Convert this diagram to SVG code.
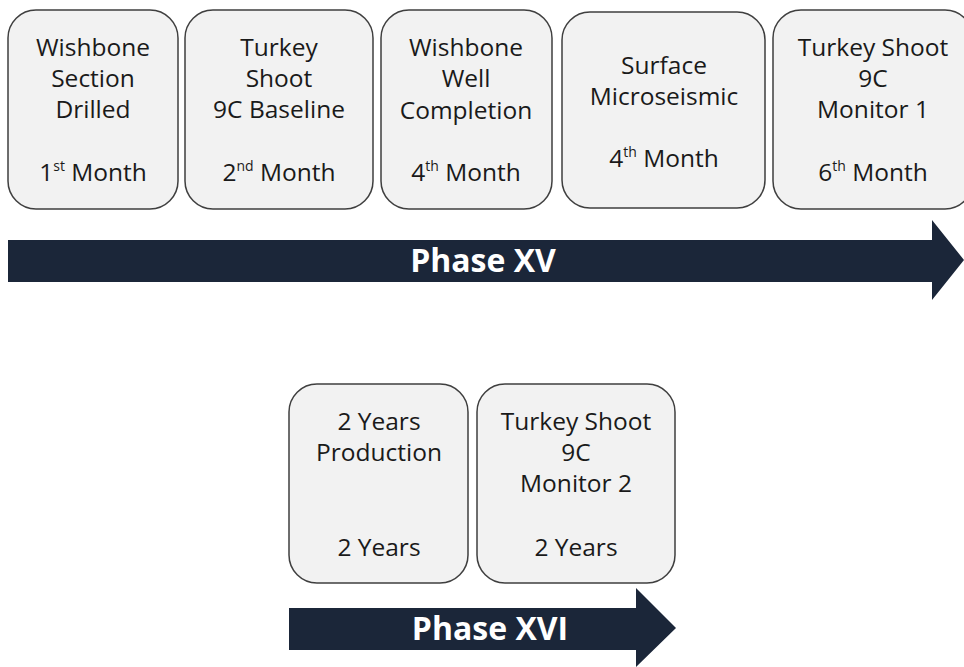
<svg xmlns="http://www.w3.org/2000/svg" width="964" height="667" viewBox="0 0 964 667">
<style>
.box{fill:#f2f2f2;stroke:#3f3f3f;stroke-width:1.5}
.t{font-family:"Open Sans","Noto Sans",sans-serif;font-size:24.5px;fill:#1a1a1a;text-anchor:middle}
.s{font-size:14px}
.arr{fill:#1b2639}
.p{font-family:"Open Sans","Noto Sans",sans-serif;font-size:32px;font-weight:bold;fill:#ffffff;text-anchor:middle}
</style>
<rect width="964" height="667" fill="#ffffff"/>
<g id="connectors">
<path class="arr" d="M8,240 H932 V220 L964,260 L932,300 V282 H8 Z"/>
<text class="p" x="483" y="272">Phase XV</text>
<path class="arr" d="M289,608 H636 V588 L676,628 L636,667 V650 H289 Z"/>
<text class="p" x="490" y="640">Phase XVI</text>
</g>
<g id="n1"><rect class="box" x="8" y="10" width="170" height="199" rx="28"/>
<text class="t" x="93" y="56">Wishbone</text><text class="t" x="93" y="87">Section</text><text class="t" x="93" y="118">Drilled</text>
<text class="t" x="93" y="181">1<tspan class="s" dy="-10">st</tspan><tspan dy="10"> Month</tspan></text></g>
<g id="n2"><rect class="box" x="185" y="10" width="188" height="199" rx="28"/>
<text class="t" x="279" y="56">Turkey</text><text class="t" x="279" y="87">Shoot</text><text class="t" x="279" y="118">9C Baseline</text>
<text class="t" x="279" y="181">2<tspan class="s" dy="-10">nd</tspan><tspan dy="10"> Month</tspan></text></g>
<g id="n3"><rect class="box" x="381" y="10" width="171" height="199" rx="28"/>
<text class="t" x="466" y="56">Wishbone</text><text class="t" x="466" y="87">Well</text><text class="t" x="466" y="119">Completion</text>
<text class="t" x="466" y="181">4<tspan class="s" dy="-10">th</tspan><tspan dy="10"> Month</tspan></text></g>
<g id="n4"><rect class="box" x="562" y="12" width="203" height="196" rx="28"/>
<text class="t" x="664" y="74">Surface</text><text class="t" x="664" y="105">Microseismic</text>
<text class="t" x="664" y="167">4<tspan class="s" dy="-10">th</tspan><tspan dy="10"> Month</tspan></text></g>
<g id="n5"><rect class="box" x="773" y="10" width="200" height="199" rx="28"/>
<text class="t" x="873" y="56">Turkey Shoot</text><text class="t" x="873" y="87">9C</text><text class="t" x="873" y="118">Monitor 1</text>
<text class="t" x="873" y="181">6<tspan class="s" dy="-10">th</tspan><tspan dy="10"> Month</tspan></text></g>
<g id="n6"><rect class="box" x="289" y="384" width="179" height="199" rx="28"/>
<text class="t" x="379" y="430">2 Years</text><text class="t" x="379" y="461">Production</text>
<text class="t" x="379" y="556">2 Years</text></g>
<g id="n7"><rect class="box" x="477" y="384" width="198" height="199" rx="28"/>
<text class="t" x="576" y="430">Turkey Shoot</text><text class="t" x="576" y="461">9C</text><text class="t" x="576" y="492">Monitor 2</text>
<text class="t" x="576" y="556">2 Years</text></g>
</svg>
